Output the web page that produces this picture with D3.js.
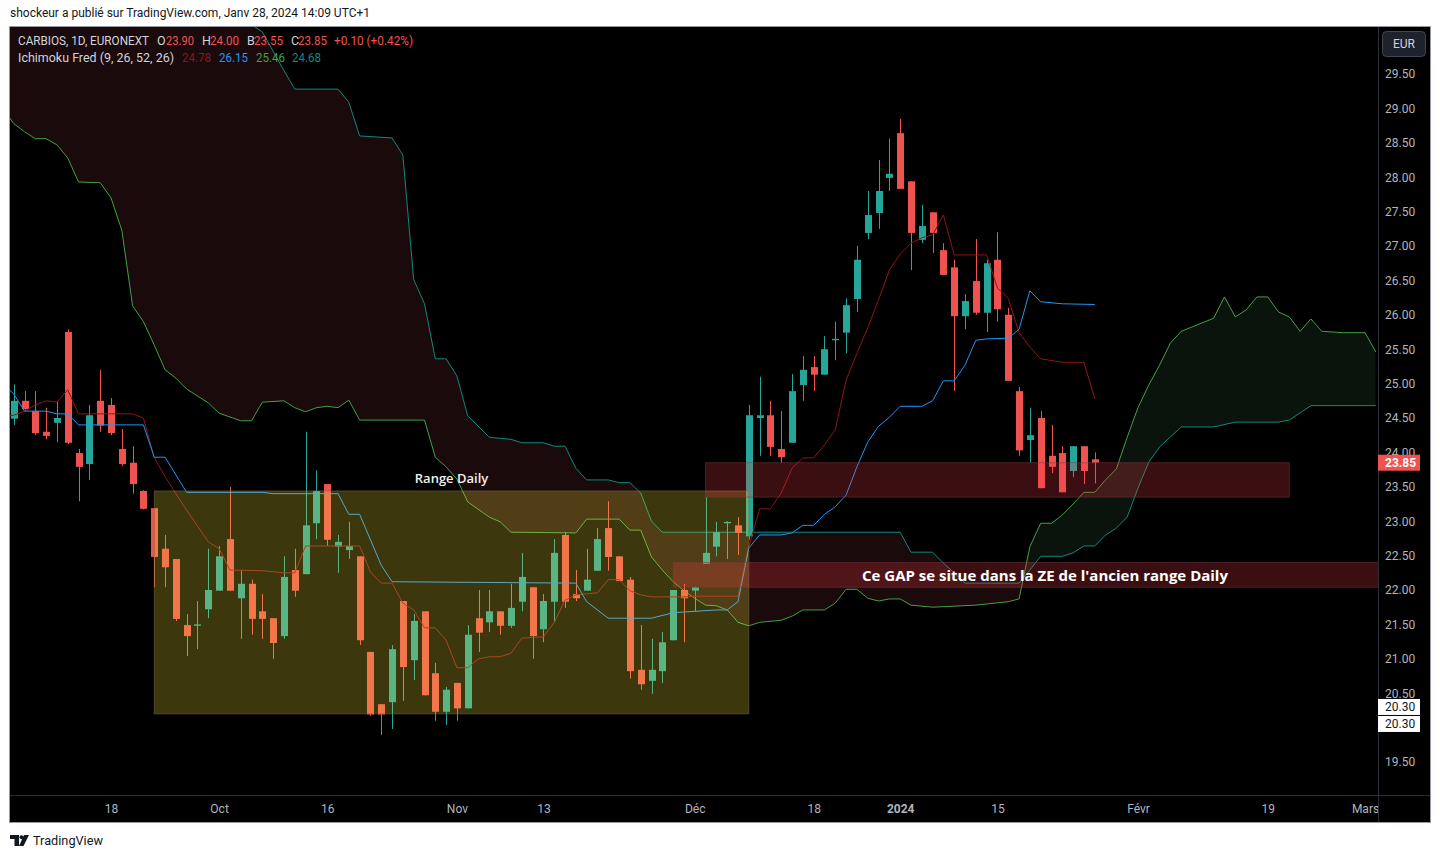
<!DOCTYPE html>
<html>
<head>
<meta charset="utf-8">
<script src="https://cdnjs.cloudflare.com/ajax/libs/d3/7.8.5/d3.min.js"></script>
<style>
  body { margin: 0; background: #ffffff; }
  svg { display: block; font-family: Roboto, "Noto Sans", sans-serif; }
</style>
</head>
<body>
<div id="chart"></div>
<script>

// bar index 0 = 18 sept 2023, one step per trading day
var firstBar = -9;

var opens = [
  24.49, 24.75, 24.60, 24.30, 24.43, 25.75, 23.99, 23.83, 24.75,
  24.69, 24.05, 23.85, 23.44, 23.19, 22.60, 22.45, 21.49, 21.48, 21.72,
  21.99, 22.74, 21.88, 22.09, 21.69, 21.59, 21.33, 22.29, 22.23, 22.97,
  23.54, 22.63, 22.58, 22.49, 21.10, 20.34, 20.37, 21.84, 20.98, 21.69,
  20.79, 20.23, 20.65, 20.28, 21.59, 21.53, 21.69, 21.48, 21.83, 22.04,
  21.43, 21.83, 22.80, 21.94, 21.99, 22.28, 22.90, 22.49, 22.15, 20.84,
  20.68, 20.82, 21.27, 22.00, 21.99, 22.38, 22.63, 22.97, 22.94, 22.78,
  24.50, 24.54, 24.05, 24.14, 24.98, 25.24, 25.13, 25.63, 25.74, 26.23,
  27.19, 27.48, 27.99, 28.64, 27.94, 27.09, 27.49, 26.94, 26.69, 25.98,
  26.49, 26.03, 26.80, 26.00, 24.89, 24.18, 24.50, 23.95, 23.99, 23.73,
  24.09, 23.90
];
var highs = [
  24.99, 24.89, 24.89, 24.65, 24.75, 25.79, 24.05, 24.69, 25.20,
  24.79, 24.34, 24.09, 23.45, 23.19, 22.80, 22.45, 21.65, 21.84, 22.60,
  22.64, 23.50, 22.29, 22.15, 21.94, 21.59, 22.49, 22.60, 24.30, 23.74,
  23.54, 22.80, 22.99, 22.49, 21.10, 20.34, 21.20, 21.84, 21.65, 21.69,
  20.94, 20.59, 20.65, 21.49, 22.00, 22.00, 21.69, 22.09, 22.54, 22.04,
  21.94, 22.74, 22.84, 22.29, 22.60, 22.90, 23.29, 22.49, 22.19, 21.49,
  21.29, 21.39, 22.00, 22.09, 22.05, 23.35, 22.99, 23.00, 23.06, 24.69,
  25.10, 24.75, 24.60, 25.14, 25.40, 25.40, 25.69, 25.90, 26.24, 27.00,
  27.80, 28.25, 28.56, 28.85, 27.94, 27.60, 27.49, 27.04, 26.80, 26.30,
  27.10, 26.80, 27.20, 26.10, 24.95, 24.65, 24.60, 24.40, 24.09, 24.09,
  24.09, 24.00
];
var lows = [
  24.40, 24.62, 24.25, 24.19, 24.15, 24.12, 23.29, 23.60, 24.30,
  24.25, 23.80, 23.40, 23.17, 22.04, 22.04, 21.55, 21.04, 21.14, 21.59,
  21.99, 21.99, 21.29, 21.35, 21.29, 21.00, 21.29, 21.90, 22.23, 22.74,
  22.64, 22.25, 22.45, 21.20, 20.17, 19.89, 19.98, 20.39, 20.69, 20.47,
  20.10, 20.04, 20.10, 20.28, 21.10, 21.39, 21.35, 21.45, 21.69, 21.00,
  21.24, 21.53, 21.74, 21.84, 21.99, 22.28, 22.28, 22.13, 20.71, 20.55,
  20.49, 20.65, 21.27, 21.24, 21.69, 22.38, 22.49, 22.45, 22.51, 22.73,
  23.95, 23.95, 23.85, 24.14, 24.75, 24.89, 25.13, 25.34, 25.44, 26.04,
  27.10, 27.25, 27.80, 27.83, 26.65, 27.04, 26.90, 26.58, 24.89, 25.79,
  26.00, 25.75, 25.90, 25.04, 23.95, 23.85, 23.48, 23.70, 23.42, 23.64,
  23.54, 23.55
];
var closes = [
  24.75, 24.63, 24.28, 24.24, 24.50, 24.14, 23.79, 24.54, 24.39,
  24.28, 23.83, 23.54, 23.18, 22.48, 22.33, 21.58, 21.33, 21.50, 22.00,
  22.49, 21.99, 22.09, 21.58, 21.58, 21.23, 22.19, 21.99, 22.94, 23.44,
  22.73, 22.70, 22.64, 21.27, 20.19, 20.19, 21.14, 20.88, 21.55, 20.47,
  20.23, 20.55, 20.28, 21.35, 21.38, 21.69, 21.48, 21.74, 22.19, 21.33,
  21.84, 22.54, 21.83, 21.88, 22.15, 22.74, 22.48, 22.13, 20.82, 20.63,
  20.84, 21.24, 22.00, 21.88, 22.04, 22.54, 22.84, 22.99, 22.83, 24.54,
  24.54, 24.08, 23.93, 24.89, 25.20, 25.13, 25.50, 25.65, 26.14, 26.80,
  27.45, 27.80, 28.05, 27.83, 27.19, 27.29, 27.19, 26.58, 25.98, 26.20,
  26.03, 26.75, 26.08, 25.04, 24.03, 24.25, 23.48, 23.79, 23.42, 24.09,
  23.73, 23.85
];

// ichimoku lines, as [bar index, price] at the points where they bend
var tenkan = [
  [-10, 24.52], [-9, 24.54], [-8, 24.60], [-7, 24.69], [-6, 24.75], [-5, 24.73], [-4, 24.91],
  [-3, 24.56], [2, 24.56], [3, 24.50], [4, 23.93], [5, 23.65], [6, 23.40], [7, 23.16],
  [9, 22.70], [10, 22.60], [11, 22.29], [14, 22.28], [16, 22.25], [17, 22.25], [18, 22.64],
  [23, 22.64], [24, 22.26], [25, 22.10], [26, 22.10], [27, 21.81], [28, 21.71], [29, 21.45],
  [30, 21.45], [31, 21.27], [32, 20.87], [33, 20.87], [34, 21.00], [35, 21.03], [36, 21.03],
  [37, 21.08], [38, 21.30], [40, 21.32], [41, 21.53], [42, 21.85], [43, 21.93], [45, 21.96],
  [46, 22.15], [47, 22.15], [48, 21.99], [49, 21.93], [50, 21.90], [53, 21.90], [54, 21.91],
  [58, 21.91], [59, 22.63], [60, 23.18], [61, 23.18], [62, 23.41], [63, 23.77], [64, 23.92],
  [65, 23.92], [66, 24.11], [67, 24.33], [68, 25.05], [69, 25.44], [70, 25.81], [71, 26.22],
  [72, 26.65], [73, 26.88], [74, 27.04], [75, 27.12], [76, 27.16], [77, 27.45], [78, 26.87],
  [81, 26.87], [82, 26.39], [83, 26.24], [84, 25.74], [85, 25.53], [86, 25.36], [88, 25.31],
  [90, 25.31], [91, 24.78]
];
var kijun = [
  [-10, 25.00], [-9, 24.85], [-8, 24.60], [-6, 24.60], [-5, 24.56], [-4, 24.56], [-3, 24.40],
  [3, 24.40], [4, 23.93], [5, 23.93], [7, 23.42], [14, 23.42], [15, 23.40], [21, 23.40],
  [22, 23.10], [23, 23.10], [25, 22.36], [26, 22.12], [43, 22.10], [44, 21.83], [46, 21.59],
  [50, 21.59], [52, 21.67], [56, 21.71], [57, 21.71], [58, 21.83], [59, 22.61], [60, 22.80],
  [62, 22.80], [63, 22.83], [64, 22.94], [65, 22.94], [66, 23.10], [67, 23.21], [68, 23.38],
  [69, 23.79], [70, 24.15], [71, 24.38], [72, 24.51], [73, 24.67], [75, 24.67], [76, 24.75],
  [77, 25.04], [78, 25.04], [79, 25.27], [80, 25.63], [81, 25.65], [83, 25.66], [84, 25.79],
  [85, 26.35], [86, 26.19], [88, 26.16], [91, 26.15]
];
var senkouA = [
  [-10, 29.00], [-9, 28.78], [-8, 28.66], [-7, 28.56], [-6, 28.56], [-5, 28.47], [-4, 28.28],
  [-3, 27.93], [-1, 27.92], [0, 27.70], [1, 27.23], [2, 26.13], [3, 25.90], [4, 25.56],
  [5, 25.20], [6, 25.08], [7, 24.92], [9, 24.72], [10, 24.57], [12, 24.46], [13, 24.46],
  [14, 24.73], [16, 24.75], [17, 24.65], [18, 24.59], [19, 24.65], [20, 24.67], [21, 24.65],
  [22, 24.76], [23, 24.47], [29, 24.47], [30, 23.93], [31, 23.79], [32, 23.61], [33, 23.28],
  [35, 23.06], [36, 22.99], [37, 22.84], [43, 22.83], [44, 23.03], [47, 23.03], [48, 22.87],
  [49, 22.87], [50, 22.48], [51, 22.29], [52, 22.12], [53, 21.99], [54, 21.88], [55, 21.78],
  [56, 21.77], [57, 21.71], [58, 21.53], [59, 21.48], [60, 21.53], [62, 21.56], [63, 21.62],
  [64, 21.71], [66, 21.71], [67, 21.81], [68, 22.01], [69, 22.01], [70, 21.88], [71, 21.84],
  [72, 21.87], [73, 21.87], [74, 21.78], [76, 21.75], [80, 21.78], [83, 21.83], [84, 21.87],
  [85, 22.63], [86, 22.97], [87, 22.97], [88, 23.09], [89, 23.25], [90, 23.42], [91, 23.42],
  [92, 23.60], [93, 23.76], [94, 24.22], [95, 24.65], [96, 24.98], [97, 25.27], [98, 25.59],
  [99, 25.76], [102, 25.95], [103, 26.26], [104, 25.97], [105, 26.07], [106, 26.26], [107, 26.26],
  [108, 26.04], [109, 25.97], [110, 25.76], [111, 25.94], [112, 25.76], [113, 25.75], [114, 25.74],
  [116, 25.74], [117, 25.46]
];
var senkouB = [
  [-10, 31.50], [12, 30.40], [13, 30.22], [14, 30.11], [16, 29.55], [17, 29.28], [21, 29.28],
  [22, 29.09], [23, 28.60], [26, 28.57], [27, 28.32], [28, 26.51], [29, 26.16], [30, 25.36],
  [31, 25.36], [32, 25.11], [33, 24.53], [35, 24.22], [37, 24.19], [38, 24.14], [40, 24.14],
  [41, 24.09], [42, 24.09], [43, 23.77], [44, 23.60], [46, 23.60], [47, 23.56], [48, 23.56],
  [49, 23.41], [50, 23.00], [51, 22.84], [73, 22.84], [74, 22.55], [76, 22.55], [77, 22.39],
  [78, 22.25], [79, 22.10], [84, 22.10], [85, 22.29], [86, 22.49], [88, 22.49], [89, 22.54],
  [90, 22.64], [91, 22.64], [92, 22.80], [93, 22.90], [94, 23.06], [95, 23.48], [96, 23.86],
  [97, 24.08], [99, 24.37], [102, 24.37], [104, 24.44], [108, 24.44], [109, 24.47], [111, 24.68],
  [117, 24.68]
];

// 20.00 sits under the two 20.30 labels, so it is left out
var priceTicks = [19.5, 20.5, 21.0, 21.5, 22.0, 22.5, 23.0, 23.5, 24.0, 24.5,
                  25.0, 25.5, 26.0, 26.5, 27.0, 27.5, 28.0, 28.5, 29.0, 29.5];
var timeTickBars = [0, 10, 20, 32, 40, 54, 65, 73, 82, 95, 107, 116];
var timeTickLabels = ["18", "Oct", "16", "Nov", "13", "Déc", "18", "2024", "15", "Févr", "19", "Mars"];

// drawings: [from bar, to bar, top price, bottom price]
var rangeBox = [4, 59, 23.44, 20.20];
var zoneBox = [55, 109, 23.85, 23.35];
var gapBox = [52, 130, 22.40, 22.04];
var gapLabelBar = 86.4;
var lastClose = 23.85;
var rangeLow = 20.30;

var ohlcLegend = ["23.90", "24.00", "23.55", "23.85", "+0.10 (+0.42%)"];
var ichiLegend = ["24.78", "26.15", "25.46", "24.68"];


var W = 1440, H = 858;
var pane = { left: 10, right: 1378, top: 27, bottom: 795 };
var frame = { right: 1430, bottom: 822 };

var upColor = "#26a69a", downColor = "#ef5350";
var tenkanColor = "#8e1616", kijunColor = "#2196f3";
var spanAColor = "#43a047", spanBColor = "#0e8a7d";
var axisText = "#b2b5be";

var xScale = d3.scaleLinear().domain([0, 116]).range([111, 1365]);
var yScale = d3.scaleLinear().domain([19.5, 29.5]).range([762, 74]);

var svg = d3.select("#chart").append("svg")
  .attr("width", W)
  .attr("height", H);

svg.append("rect")
  .attr("width", W)
  .attr("height", H)
  .attr("fill", "#ffffff");

svg.append("text")
  .attr("x", 10)
  .attr("y", 17)
  .attr("font-size", 12)
  .attr("fill", "#131722")
  .attr("textLength", 360)
  .attr("lengthAdjust", "spacingAndGlyphs")
  .text("shockeur a publié sur TradingView.com, Janv 28, 2024 14:09 UTC+1");

svg.append("rect")
  .attr("x", pane.left)
  .attr("y", pane.top)
  .attr("width", frame.right - pane.left)
  .attr("height", frame.bottom - pane.top)
  .attr("fill", "#000000");

var defs = svg.append("defs");

defs.append("clipPath")
  .attr("id", "clip-pane")
  .append("rect")
  .attr("x", pane.left)
  .attr("y", pane.top)
  .attr("width", pane.right - pane.left)
  .attr("height", pane.bottom - pane.top);

var ptX = function(d) { return xScale(d[0]); };
var ptY = function(d) { return yScale(d[1]); };
var lineGen = d3.line().x(ptX).y(ptY);

defs.append("clipPath")
  .attr("id", "clip-above-a")
  .append("path")
  .attr("d", d3.area().x(ptX).y0(pane.top - 20).y1(ptY)(senkouA));

defs.append("clipPath")
  .attr("id", "clip-below-a")
  .append("path")
  .attr("d", d3.area().x(ptX).y0(pane.bottom + 20).y1(ptY)(senkouA));

var plot = svg.append("g")
  .attr("clip-path", "url(#clip-pane)");

// kumo
var band = lineGen(senkouA.concat(senkouB.slice().reverse())) + "Z";

plot.append("path")
  .attr("d", band)
  .attr("fill", "#1b0a0b")
  .attr("clip-path", "url(#clip-above-a)");

plot.append("path")
  .attr("d", band)
  .attr("fill", "#0a140c")
  .attr("clip-path", "url(#clip-below-a)");

plot.append("path")
  .attr("d", lineGen(senkouA))
  .attr("fill", "none")
  .attr("stroke", spanAColor)
  .attr("stroke-width", 1);

plot.append("path")
  .attr("d", lineGen(senkouB))
  .attr("fill", "none")
  .attr("stroke", spanBColor)
  .attr("stroke-width", 1);

// candles
var bars = opens.map(function(o, k) {
  return { i: firstBar + k, o: o, h: highs[k], l: lows[k], c: closes[k] };
});
var bodyW = 7;

var candle = plot.append("g")
  .selectAll("g")
  .data(bars)
  .enter()
  .append("g");

candle.append("line")
  .attr("x1", function(d) { return Math.round(xScale(d.i)) + 0.5; })
  .attr("x2", function(d) { return Math.round(xScale(d.i)) + 0.5; })
  .attr("y1", function(d) { return yScale(d.h); })
  .attr("y2", function(d) { return yScale(d.l); })
  .attr("stroke", function(d) { return d.c >= d.o ? upColor : downColor; })
  .attr("stroke-width", 1);

candle.append("rect")
  .attr("x", function(d) { return Math.round(xScale(d.i)) - 3; })
  .attr("y", function(d) { return yScale(Math.max(d.o, d.c)); })
  .attr("width", bodyW)
  .attr("height", function(d) {
    return Math.max(1, yScale(Math.min(d.o, d.c)) - yScale(Math.max(d.o, d.c)));
  })
  .attr("fill", function(d) { return d.c >= d.o ? upColor : downColor; });

plot.append("path")
  .attr("d", lineGen(tenkan))
  .attr("fill", "none")
  .attr("stroke", tenkanColor)
  .attr("stroke-width", 1);

plot.append("path")
  .attr("d", lineGen(kijun))
  .attr("fill", "none")
  .attr("stroke", kijunColor)
  .attr("stroke-width", 1);

// drawings
function drawBox(box, fill, stroke) {
  plot.append("rect")
    .attr("x", xScale(box[0]))
    .attr("y", yScale(box[2]))
    .attr("width", xScale(box[1]) - xScale(box[0]))
    .attr("height", yScale(box[3]) - yScale(box[2]))
    .attr("fill", fill)
    .attr("stroke", stroke)
    .attr("stroke-width", 1);
}

drawBox(rangeBox, "rgba(255,232,60,0.24)", "rgba(110,105,70,0.55)");
drawBox(zoneBox, "rgba(255,60,72,0.23)", "rgba(120,60,64,0.5)");
drawBox(gapBox, "rgba(255,60,72,0.23)", "rgba(120,60,64,0.5)");

plot.append("text")
  .attr("x", (xScale(rangeBox[0]) + xScale(rangeBox[1])) / 2)
  .attr("y", yScale(rangeBox[2]) - 8)
  .attr("text-anchor", "middle")
  .attr("font-family", "'Open Sans', sans-serif")
  .attr("font-size", 13)
  .attr("font-weight", 600)
  .attr("fill", "#f0f0f0")
  .text("Range Daily");

plot.append("text")
  .attr("x", xScale(gapLabelBar))
  .attr("y", (yScale(gapBox[2]) + yScale(gapBox[3])) / 2 + 6)
  .attr("text-anchor", "middle")
  .attr("font-family", "'Open Sans', sans-serif")
  .attr("font-size", 15)
  .attr("font-weight", 700)
  .attr("fill", "#ffffff")
  .text("Ce GAP se situe dans la ZE de l'ancien range Daily");

// legend
function legendLine(y, parts) {
  var t = svg.append("text")
    .attr("y", y)
    .attr("font-size", 12.5);
  parts.forEach(function(p) {
    var s = t.append("tspan")
      .attr("x", p[0])
      .attr("fill", p[2])
      .text(p[1]);
    if (p[3]) {
      s.attr("textLength", p[3]).attr("lengthAdjust", "spacingAndGlyphs");
    }
  });
}

var legendGrey = "#d1d4dc";
legendLine(45, [
  [18, "CARBIOS, 1D, EURONEXT", legendGrey, 131],
  [157, "O", legendGrey], [166, ohlcLegend[0], downColor, 28],
  [202, "H", legendGrey], [210, ohlcLegend[1], downColor, 29],
  [247, "B", legendGrey], [254, ohlcLegend[2], downColor, 29],
  [291, "C", legendGrey], [298, ohlcLegend[3], downColor, 29],
  [334, ohlcLegend[4], downColor, 79]
]);
legendLine(62, [
  [18, "Ichimoku Fred (9, 26, 52, 26)", legendGrey, 156],
  [182, ichiLegend[0], tenkanColor, 29],
  [219, ichiLegend[1], kijunColor, 29],
  [256, ichiLegend[2], spanAColor, 29],
  [292, ichiLegend[3], spanBColor, 29]
]);

// axes
var yAxis = d3.axisRight(yScale)
  .tickValues(priceTicks)
  .tickFormat(d3.format(".2f"))
  .tickSize(0)
  .tickPadding(7);

var yG = svg.append("g")
  .attr("transform", "translate(" + pane.right + ",0)")
  .call(yAxis);
yG.select(".domain").remove();
yG.selectAll("text")
  .attr("font-size", 12)
  .attr("font-family", "Roboto, sans-serif")
  .attr("fill", axisText);

var xAxis = d3.axisBottom(xScale)
  .tickValues(timeTickBars)
  .tickFormat(function(d, k) { return timeTickLabels[k]; })
  .tickSize(0)
  .tickPadding(9);

var xG = svg.append("g")
  .attr("transform", "translate(0," + pane.bottom + ")")
  .call(xAxis);
xG.select(".domain").remove();
xG.selectAll("text")
  .attr("font-size", 12)
  .attr("font-family", "Roboto, sans-serif")
  .attr("fill", axisText)
  .attr("font-weight", function(d, k) { return timeTickLabels[k] === "2024" ? 700 : 400; });

svg.append("line")
  .attr("x1", pane.right + 0.5)
  .attr("x2", pane.right + 0.5)
  .attr("y1", pane.top)
  .attr("y2", frame.bottom)
  .attr("stroke", "#2a2e39");

svg.append("line")
  .attr("x1", pane.left)
  .attr("x2", frame.right)
  .attr("y1", pane.bottom + 0.5)
  .attr("y2", pane.bottom + 0.5)
  .attr("stroke", "#2a2e39");

// price badges
function badge(price, dy, bg, fg) {
  var y = yScale(price) + dy;
  svg.append("rect")
    .attr("x", pane.right)
    .attr("y", y - 8)
    .attr("width", 42)
    .attr("height", 16)
    .attr("fill", bg);
  svg.append("text")
    .attr("x", pane.right + 7)
    .attr("y", y + 4)
    .attr("font-size", 12)
    .attr("font-weight", bg === downColor ? 700 : 400)
    .attr("fill", fg)
    .text(d3.format(".2f")(price));
}

badge(lastClose, 0, downColor, "#ffffff");
badge(rangeLow, 0, "#ffffff", "#131722");
badge(rangeLow, 17, "#ffffff", "#131722");

svg.append("rect")
  .attr("x", 1382.5)
  .attr("y", 31.5)
  .attr("width", 43)
  .attr("height", 25)
  .attr("rx", 4)
  .attr("fill", "#1e222d")
  .attr("stroke", "#434651");

svg.append("text")
  .attr("x", 1404)
  .attr("y", 48)
  .attr("text-anchor", "middle")
  .attr("font-size", 12)
  .attr("fill", "#d1d4dc")
  .text("EUR");

svg.append("rect")
  .attr("x", pane.left - 0.5)
  .attr("y", pane.top - 0.5)
  .attr("width", frame.right - pane.left + 1)
  .attr("height", frame.bottom - pane.top + 1)
  .attr("fill", "none")
  .attr("stroke", "#9598a1");

// footer logo
var logo = svg.append("g").attr("fill", "#131722");
logo.append("path").attr("d", "M10,835 h9 v11 h-4.5 v-7 h-4.5 z");
logo.append("circle").attr("cx", 21.5).attr("cy", 837.2).attr("r", 2);
logo.append("path").attr("d", "M24,835 h5 l-5.5,11 h-4.5 z");

svg.append("text")
  .attr("x", 33)
  .attr("y", 845)
  .attr("font-size", 13)
  .attr("fill", "#131722")
  .attr("textLength", 70)
  .attr("lengthAdjust", "spacingAndGlyphs")
  .text("TradingView");

</script>
</body>
</html>
